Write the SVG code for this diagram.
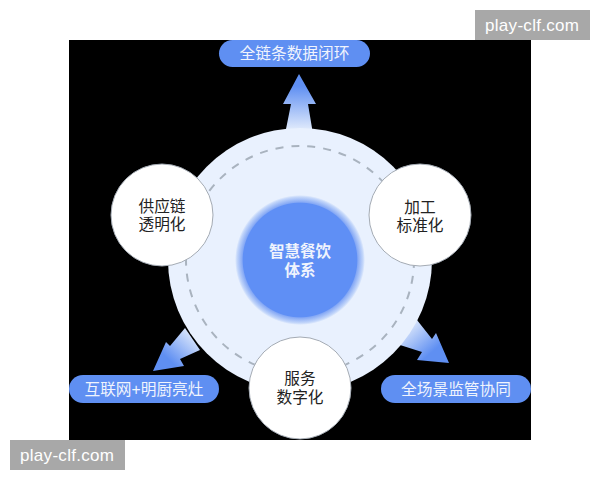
<svg xmlns="http://www.w3.org/2000/svg" width="600" height="480" viewBox="0 0 600 480">
<style>
text{font-family:"Liberation Sans","Noto Sans CJK SC",sans-serif;text-anchor:middle}
.n{fill:#fff;stroke:#a4abb4;stroke-width:1}
.t{font-size:15.7px;fill:#222}
.p{fill:#5f8ff2}
.l{font-size:15.7px;fill:#f0f4fd}
.w{fill:#a8a8a8}
.wt{font-size:17px;fill:#fff}
</style>
<defs>
<radialGradient id="core"><stop offset="0.875" stop-color="#5f8ff5"/><stop offset="0.89" stop-color="#86a9f5"/><stop offset="0.97" stop-color="#c4d7fa"/><stop offset="1" stop-color="#e9f1fe"/></radialGradient>
<linearGradient id="up" x1="0" y1="0" x2="0" y2="1"><stop offset="0.2" stop-color="#5f8ff2"/><stop offset="0.95" stop-color="#e4edfc"/></linearGradient>
<linearGradient id="dl" x1="0" y1="1" x2="1" y2="0"><stop offset="0.3" stop-color="#5f8ff2"/><stop offset="0.9" stop-color="#e4edfc"/></linearGradient>
<linearGradient id="dr" x1="1" y1="1" x2="0" y2="0"><stop offset="0.3" stop-color="#5f8ff2"/><stop offset="0.9" stop-color="#e4edfc"/></linearGradient>
</defs>
<rect x="69" y="40" width="462" height="400" fill="#000"/>
<g id="connectors">
<path d="M299 74 L316 104 L308 104 L313 134 L285 134 L291 104 L283 104 Z" fill="url(#up)"/>
<path d="M153 371 L166 342 L170 346 L185 328 L200 350 L180 359 L184 366 Z" fill="url(#dl)"/>
<path d="M449 363 L417 360 L422 352 L400 345 L417 320 L432 339 L436 333 Z" fill="url(#dr)"/>
</g>
<g id="ring">
<circle cx="300" cy="260" r="132" fill="#e9f1fe"/>
<circle cx="300" cy="260" r="114" fill="none" stroke="#a9b3bf" stroke-width="2" stroke-dasharray="8 8"/>
</g>
<g id="core-node">
<circle cx="300" cy="260" r="65" fill="url(#core)"/>
<text x="300" y="257" font-size="15.5" font-weight="700" fill="#f0f4fd">智慧餐饮</text>
<text x="300" y="276" font-size="15.5" font-weight="700" fill="#f0f4fd">体系</text>
</g>
<g id="node-supply"><circle class="n" cx="162" cy="215" r="51"/><text class="t" x="162" y="211.500">供应链</text><text class="t" x="162" y="230">透明化</text></g>
<g id="node-process"><circle class="n" cx="420" cy="215" r="51"/><text class="t" x="420" y="212.500">加工</text><text class="t" x="420" y="231">标准化</text></g>
<g id="node-service"><circle class="n" cx="300" cy="388" r="51"/><text class="t" x="300" y="384">服务</text><text class="t" x="300" y="403">数字化</text></g>
<g id="label-top"><rect class="p" x="219" y="40" width="151" height="27" rx="13.5"/><text class="l" x="294.500" y="59">全链条数据闭环</text></g>
<g id="label-left"><rect class="p" x="69" y="375" width="150" height="28" rx="14"/><text class="l" x="144" y="394.500">互联网+明厨亮灶</text></g>
<g id="label-right"><rect class="p" x="381" y="375" width="150" height="28" rx="14"/><text class="l" x="456" y="394.500">全场景监管协同</text></g>
<g id="wm1"><rect class="w" x="475" y="10" width="115" height="30"/><text class="wt" x="532" y="31" textLength="94" lengthAdjust="spacing">play-clf.com</text></g>
<g id="wm2"><rect class="w" x="10" y="440" width="115" height="30"/><text class="wt" x="67" y="461" textLength="94" lengthAdjust="spacing">play-clf.com</text></g>
</svg>
